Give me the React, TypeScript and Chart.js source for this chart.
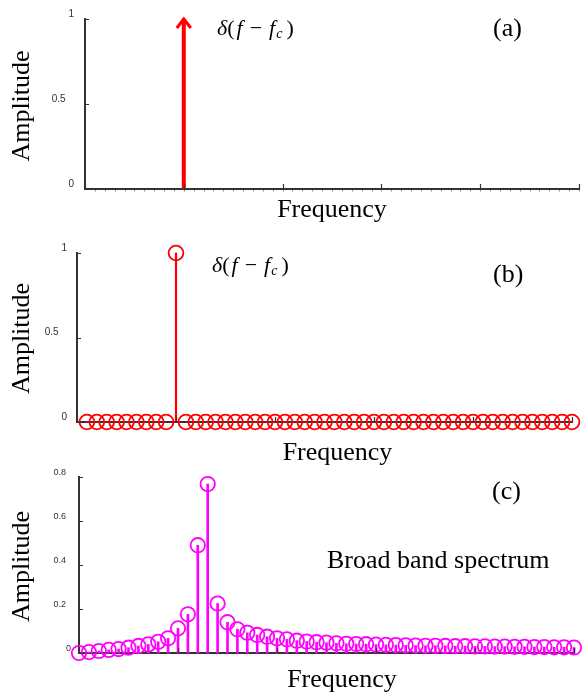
import React, { useEffect, useRef } from 'react';
import { Chart, registerables } from 'chart.js';

Chart.register(...registerables);

const W = 588;
const H = 694;
const SERIF = '"Liberation Serif", "Times New Roman", Times, serif';
const SANS = '"Liberation Sans", Arial, Helvetica, sans-serif';
const AXIS = '#333333';
const RED = '#ff0000';
const MAGENTA = '#ff00ff';

// ---- data ----
const FREQ_TICKS = [0, 1, 2, 3, 4, 5];
const AMP_TICKS_AB = [0, 0.5, 1];
const AMP_TICKS_C = [0, 0.2, 0.4, 0.6, 0.8];

// (a) ideal carrier: delta at f = fc
const CARRIER_FREQ = 1.0;
const CARRIER_AMP = 1.0;

// (b) sampled spectrum of a pure tone
const FREQ_B = [
  0.1, 0.2, 0.3, 0.4, 0.5, 0.6, 0.7, 0.8, 0.9, 1.0,
  1.1, 1.2, 1.3, 1.4, 1.5, 1.6, 1.7, 1.8, 1.9, 2.0,
  2.1, 2.2, 2.3, 2.4, 2.5, 2.6, 2.7, 2.8, 2.9, 3.0,
  3.1, 3.2, 3.3, 3.4, 3.5, 3.6, 3.7, 3.8, 3.9, 4.0,
  4.1, 4.2, 4.3, 4.4, 4.5, 4.6, 4.7, 4.8, 4.9, 5.0,
];
const AMP_B = [
  0, 0, 0, 0, 0, 0, 0, 0, 0, 1,
  0, 0, 0, 0, 0, 0, 0, 0, 0, 0,
  0, 0, 0, 0, 0, 0, 0, 0, 0, 0,
  0, 0, 0, 0, 0, 0, 0, 0, 0, 0,
  0, 0, 0, 0, 0, 0, 0, 0, 0, 0,
];

// (c) broad band spectrum
const FREQ_C = [
  0.0, 0.1, 0.2, 0.3, 0.4, 0.5, 0.6, 0.7, 0.8, 0.9,
  1.0, 1.1, 1.2, 1.3, 1.4, 1.5, 1.6, 1.7, 1.8, 1.9,
  2.0, 2.1, 2.2, 2.3, 2.4, 2.5, 2.6, 2.7, 2.8, 2.9,
  3.0, 3.1, 3.2, 3.3, 3.4, 3.5, 3.6, 3.7, 3.8, 3.9,
  4.0, 4.1, 4.2, 4.3, 4.4, 4.5, 4.6, 4.7, 4.8, 4.9, 5.0,
];
const AMP_C = [
  0.000, 0.004, 0.009, 0.014, 0.018, 0.024, 0.032, 0.039, 0.051, 0.067,
  0.112, 0.176, 0.490, 0.768, 0.225, 0.140, 0.108, 0.092, 0.082, 0.074,
  0.067, 0.062, 0.056, 0.052, 0.049, 0.047, 0.044, 0.042, 0.041, 0.040,
  0.038, 0.037, 0.036, 0.035, 0.034, 0.033, 0.033, 0.032, 0.031, 0.031,
  0.030, 0.030, 0.029, 0.029, 0.028, 0.028, 0.027, 0.027, 0.026, 0.026, 0.025,
];

type Area = { left: number; right: number; top: number; bottom: number };
type Texts = {
  ampY: number;
  freqX: number;
  freqBase: number;
  tag: string;
  tagX: number;
  tagBase: number;
  delta?: { x: number; base: number };
  note?: { text: string; x: number; base: number };
  minor?: boolean;
};

function makeOptions(area: Area, yMax: number, yTicks: number[], tickSize: number, pad: number, decPad: string, labelOffset: number) {
  return {
    responsive: false,
    animation: false,
    events: [],
    layout: { padding: { top: area.top, right: W - area.right, bottom: H - area.bottom - 10, left: 0 } },
    plugins: { legend: { display: false }, tooltip: { enabled: false } },
    scales: {
      x: {
        type: 'linear',
        min: 0,
        max: 5,
        offset: false,
        grid: { display: false, drawTicks: false, offset: false },
        border: { display: true, color: AXIS, width: 2 },
        ticks: { display: false },
        afterBuildTicks: (s: any) => {
          s.ticks = FREQ_TICKS.map((v) => ({ value: v }));
        },
        afterFit: (s: any) => {
          s.height = 10;
        },
      },
      y: {
        type: 'linear',
        min: 0,
        max: yMax,
        grid: { display: false, drawTicks: false },
        border: { display: true, color: AXIS, width: 2 },
        ticks: {
          font: { family: SANS, size: tickSize },
          color: '#333333',
          padding: pad,
          labelOffset,
          callback: (v: any) => (Number.isInteger(v) ? String(v) : String(v) + decPad),
        },
        afterBuildTicks: (s: any) => {
          s.ticks = yTicks.map((v) => ({ value: v }));
        },
        afterFit: (s: any) => {
          s.width = area.left;
        },
      },
    },
  };
}

function drawDelta(ctx: CanvasRenderingContext2D, x: number, base: number, size: number) {
  const it = `italic ${size}px ${SERIF}`;
  const rm = `${size}px ${SERIF}`;
  const segs: [string, string, number][] = [
    ['δ', it, 0],
    ['(', rm, 2],
    ['f', it, 7],
    ['−', rm, 7],
    ['f', it, 1],
  ];
  let cx = x;
  ctx.textAlign = 'left';
  ctx.textBaseline = 'alphabetic';
  for (const [t, f, gap] of segs) {
    ctx.font = f;
    ctx.fillText(t, cx, base);
    cx += ctx.measureText(t).width + gap;
  }
  ctx.font = `italic ${Math.round(size * 0.62)}px ${SERIF}`;
  ctx.fillText('c', cx, base + size * 0.12);
  cx += ctx.measureText('c').width + 4;
  ctx.font = rm;
  ctx.fillText(')', cx, base);
}

function decor(texts: Texts) {
  return {
    id: 'decor',
    afterDraw(chart: any) {
      const ctx: CanvasRenderingContext2D = chart.ctx;
      const { left, bottom } = chart.chartArea;
      const xs = chart.scales.x;
      const ys = chart.scales.y;
      ctx.save();
      ctx.strokeStyle = AXIS;
      ctx.lineWidth = 1.2;
      ctx.beginPath();
      ys.ticks.forEach((t: any) => {
        const py = Math.round(ys.getPixelForValue(t.value)) + 0.5;
        ctx.moveTo(left, py);
        ctx.lineTo(left + 4, py);
      });
      xs.ticks.forEach((t: any) => {
        const px = Math.round(xs.getPixelForValue(t.value)) + 0.5;
        ctx.moveTo(px, bottom);
        ctx.lineTo(px, bottom - 5);
      });
      ctx.stroke();
      if (texts.minor) {
        ctx.strokeStyle = '#888888';
        ctx.lineWidth = 1;
        ctx.beginPath();
        for (let v = 0.1; v < 5; v += 0.1) {
          const px = Math.round(xs.getPixelForValue(v)) + 0.5;
          ctx.moveTo(px, bottom + 1);
          ctx.lineTo(px, bottom + 2.5);
        }
        ctx.stroke();
      }
      ctx.fillStyle = '#000';
      // Amplitude
      ctx.save();
      ctx.translate(22, texts.ampY);
      ctx.rotate(-Math.PI / 2);
      ctx.font = `26px ${SERIF}`;
      ctx.textAlign = 'center';
      ctx.textBaseline = 'middle';
      ctx.fillText('Amplitude', 0, 0);
      ctx.restore();
      // Frequency
      ctx.font = `26px ${SERIF}`;
      ctx.textAlign = 'center';
      ctx.textBaseline = 'alphabetic';
      ctx.fillText('Frequency', texts.freqX, texts.freqBase);
      // tag
      ctx.textAlign = 'left';
      ctx.fillText(texts.tag, texts.tagX, texts.tagBase);
      if (texts.note) {
        ctx.fillText(texts.note.text, texts.note.x, texts.note.base);
      }
      if (texts.delta) drawDelta(ctx, texts.delta.x, texts.delta.base, 22);
      ctx.restore();
    },
  };
}

const arrowHead = {
  id: 'arrowHead',
  afterDatasetsDraw(chart: any) {
    const meta = chart.getDatasetMeta(0);
    const tip = meta.data[1];
    if (!tip) return;
    const ctx: CanvasRenderingContext2D = chart.ctx;
    ctx.save();
    ctx.strokeStyle = RED;
    ctx.lineWidth = 3;
    ctx.lineJoin = 'miter';
    ctx.beginPath();
    ctx.moveTo(tip.x - 7, tip.y + 9);
    ctx.lineTo(tip.x, tip.y);
    ctx.lineTo(tip.x + 7, tip.y + 9);
    ctx.stroke();
    ctx.restore();
  },
};

function stemDatasets(freq: number[], amp: number[], color: string, stemW: number, radius: number) {
  const pts = freq.map((f, i) => ({ x: f, y: amp[i] }));
  return [
    {
      type: 'scatter',
      data: pts,
      showLine: false,
      pointStyle: 'circle',
      pointRadius: radius,
      borderColor: color,
      borderWidth: 1.8,
      backgroundColor: 'rgba(0,0,0,0)',
      clip: false,
    },
    {
      type: 'bar',
      data: pts,
      backgroundColor: color,
      borderWidth: 0,
      barThickness: stemW,
      clip: false,
    },
  ];
}

export default function App() {
  const refA = useRef<HTMLCanvasElement>(null);
  const refB = useRef<HTMLCanvasElement>(null);
  const refC = useRef<HTMLCanvasElement>(null);

  useEffect(() => {
    const areaA = { left: 85, right: 579, top: 19, bottom: 189 };
    const areaB = { left: 77, right: 572, top: 253, bottom: 422 };
    const areaC = { left: 79, right: 574, top: 477, bottom: 653 };

    const chartA = new Chart(refA.current as HTMLCanvasElement, {
      type: 'line',
      data: {
        datasets: [
          {
            data: [
              { x: CARRIER_FREQ, y: 0 },
              { x: CARRIER_FREQ, y: CARRIER_AMP },
            ],
            borderColor: RED,
            borderWidth: 4,
            pointRadius: 0,
            clip: false,
          } as any,
        ],
      },
      options: makeOptions(areaA, 1, AMP_TICKS_AB, 10, 11, '   ', -5) as any,
      plugins: [
        arrowHead,
        decor({ ampY: 106, freqX: 332, freqBase: 217, tag: '(a)', tagX: 493, tagBase: 36, delta: { x: 217, base: 35 }, minor: true }),
      ],
    });

    const chartB = new Chart(refB.current as HTMLCanvasElement, {
      type: 'scatter',
      data: { datasets: stemDatasets(FREQ_B, AMP_B, RED, 1.5, 7.4) as any },
      options: makeOptions(areaB, 1, AMP_TICKS_AB, 10, 10, '   ', -5) as any,
      plugins: [decor({ ampY: 338.5, freqX: 337.5, freqBase: 460, tag: '(b)', tagX: 493, tagBase: 282, delta: { x: 212, base: 272 } })],
    });

    const chartC = new Chart(refC.current as HTMLCanvasElement, {
      type: 'scatter',
      data: { datasets: stemDatasets(FREQ_C, AMP_C, MAGENTA, 2, 7.2) as any },
      options: makeOptions(areaC, 0.8, AMP_TICKS_C, 9, 8, '  ', -4) as any,
      plugins: [
        decor({
          ampY: 566.5,
          freqX: 342,
          freqBase: 687,
          tag: '(c)',
          tagX: 492,
          tagBase: 499,
          note: { text: 'Broad band spectrum', x: 327, base: 568 },
        }),
      ],
    });

    return () => {
      chartA.destroy();
      chartB.destroy();
      chartC.destroy();
    };
  }, []);

  const cs: React.CSSProperties = { position: 'absolute', left: 0, top: 0, width: W, height: H, display: 'block' };
  return (
    <div style={{ position: 'absolute', left: 0, top: 0, width: W, height: H, background: '#ffffff' }}>
      <canvas ref={refA} width={W} height={H} style={cs} />
      <canvas ref={refB} width={W} height={H} style={cs} />
      <canvas ref={refC} width={W} height={H} style={cs} />
    </div>
  );
}
